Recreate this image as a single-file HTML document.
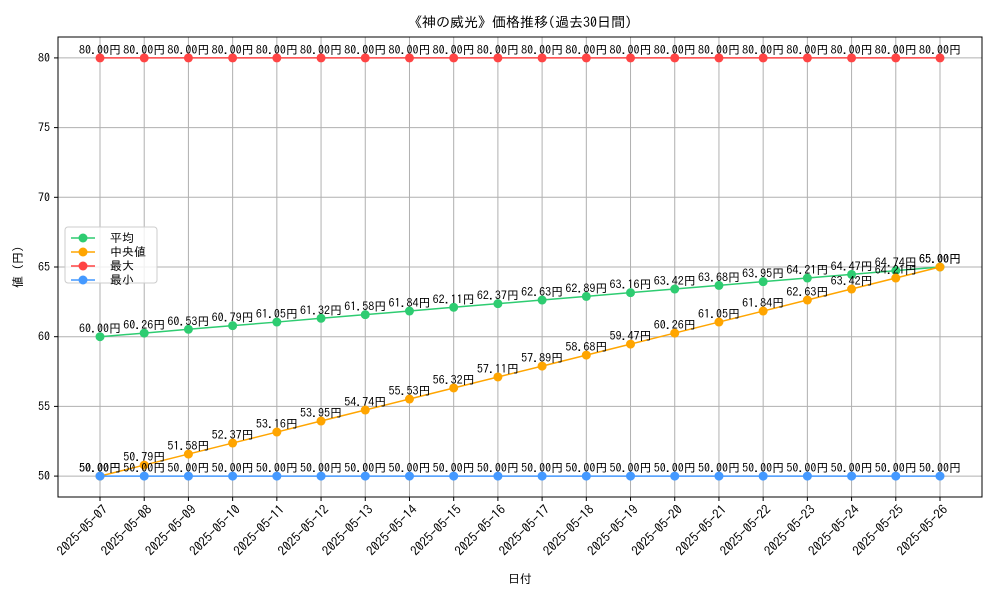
<!DOCTYPE html>
<html><head><meta charset="utf-8">
<style>
html,body{margin:0;padding:0;background:#fff;}
svg{display:block;font-family:"IPAGothic","Noto Sans CJK JP","Liberation Sans",sans-serif;}
</style></head>
<body>
<svg id="chart" width="1000" height="600" xmlns="http://www.w3.org/2000/svg"></svg>
<script>
const dates = ["2025-05-07","2025-05-08","2025-05-09","2025-05-10","2025-05-11","2025-05-12","2025-05-13","2025-05-14","2025-05-15","2025-05-16","2025-05-17","2025-05-18","2025-05-19","2025-05-20","2025-05-21","2025-05-22","2025-05-23","2025-05-24","2025-05-25","2025-05-26"];
const avgValues = [60.00,60.26,60.53,60.79,61.05,61.32,61.58,61.84,62.11,62.37,62.63,62.89,63.16,63.42,63.68,63.95,64.21,64.47,64.74,65.00];
const medianValues = [50.00,50.79,51.58,52.37,53.16,53.95,54.74,55.53,56.32,57.11,57.89,58.68,59.47,60.26,61.05,61.84,62.63,63.42,64.21,65.00];
const maxValues = [80,80,80,80,80,80,80,80,80,80,80,80,80,80,80,80,80,80,80,80];
const minValues = [50,50,50,50,50,50,50,50,50,50,50,50,50,50,50,50,50,50,50,50];
const yTicks = [50,55,60,65,70,75,80];

const NS="http://www.w3.org/2000/svg";
const svg=document.getElementById('chart');
const L=58,R=982,T=37,B=497;
const xMin=-0.95,xMax=dates.length-1+0.95,yMin=48.5,yMax=81.5;
const X=i=>L+(i-xMin)/(xMax-xMin)*(R-L);
const Y=v=>B-(v-yMin)/(yMax-yMin)*(B-T);
function mk(tag,attrs,parent){const e=document.createElementNS(NS,tag);for(const k in attrs)e.setAttribute(k,attrs[k]);(parent||svg).appendChild(e);return e;}

const grid=mk('g',{});


dates.forEach((d,i)=>{
  const l=mk('line',{x1:X(i),x2:X(i),y1:T,y2:B,stroke:'#b0b0b0','stroke-width':1},grid);
  
  
  const tk=mk('line',{x1:X(i),x2:X(i),y1:B,y2:B+4,stroke:'#000'});
  
  
  const x=X(i)+2,y=B+7;
  const t=mk('text',{x:x,y:y,'font-size':13,'text-anchor':'end',transform:`rotate(-45 ${x} ${y})`,dy:'0.7em'});
  t.textContent=d;
  
  
});
yTicks.forEach(v=>{
  const l=mk('line',{x1:L,x2:R,y1:Y(v),y2:Y(v),stroke:'#b0b0b0','stroke-width':1},grid);
  
  
  const tk=mk('line',{x1:L-4,x2:L,y1:Y(v),y2:Y(v),stroke:'#000'});
  
  
  const t=mk('text',{x:L-8,y:Y(v)+4,'font-size':12,'text-anchor':'end'});
  t.textContent=v;
  
  
});

const series=[
  {name:'平均',vals:avgValues,color:'#2ecc71',id:'avg'},
  {name:'中央値',vals:medianValues,color:'#ffa500',id:'median'},
  {name:'最大',vals:maxValues,color:'#ff4444',id:'max'},
  {name:'最小',vals:minValues,color:'#4499ff',id:'min'}
];
series.forEach(s=>{
  const g=mk('g',{});
  
  
  const p=mk('polyline',{points:s.vals.map((v,i)=>X(i)+','+Y(v)).join(' '),fill:'none',stroke:s.color,'stroke-width':1.5},g);
  
  
  s.vals.forEach((v,i)=>{
    const c=mk('circle',{cx:X(i),cy:Y(v),r:4.5,fill:s.color},g);
    
    
  });
  s.vals.forEach((v,i)=>{
    const t=mk('text',{x:X(i),y:Y(v)-4,'font-size':12,'text-anchor':'middle'},g);
    t.textContent=v.toFixed(2)+'円';
    
    
  });
});

const frame=mk('rect',{x:L,y:T,width:R-L,height:B-T,fill:'none',stroke:'#000','stroke-width':1});



const title=mk('text',{x:(L+R)/2,y:27,'font-size':14,'text-anchor':'middle'});
title.textContent='《神の威光》価格推移(過去30日間)';


const xt=mk('text',{x:(L+R)/2,y:583,'font-size':12,'text-anchor':'middle'});
xt.textContent='日付';


const yt=mk('text',{x:22,y:(T+B)/2,'font-size':12,'text-anchor':'middle',transform:`rotate(-90 22 ${(T+B)/2})`});
yt.textContent='値 (円)';



const lg=mk('g',{});


const lb=mk('rect',{x:65,y:227,width:92,height:56,rx:3,fill:'#fff','fill-opacity':0.8,stroke:'#ccc'},lg);


series.forEach((s,k)=>{
  const y=238+k*14;
  const e=mk('g',{},lg);
  
  
  mk('line',{x1:71,x2:95,y1:y,y2:y,stroke:s.color,'stroke-width':1.5},e);
  mk('circle',{cx:83,cy:y,r:4.5,fill:s.color},e);
  const t=mk('text',{x:110,y:y+4,'font-size':12},e);
  t.textContent=s.name;
});
</script>
</body></html>
